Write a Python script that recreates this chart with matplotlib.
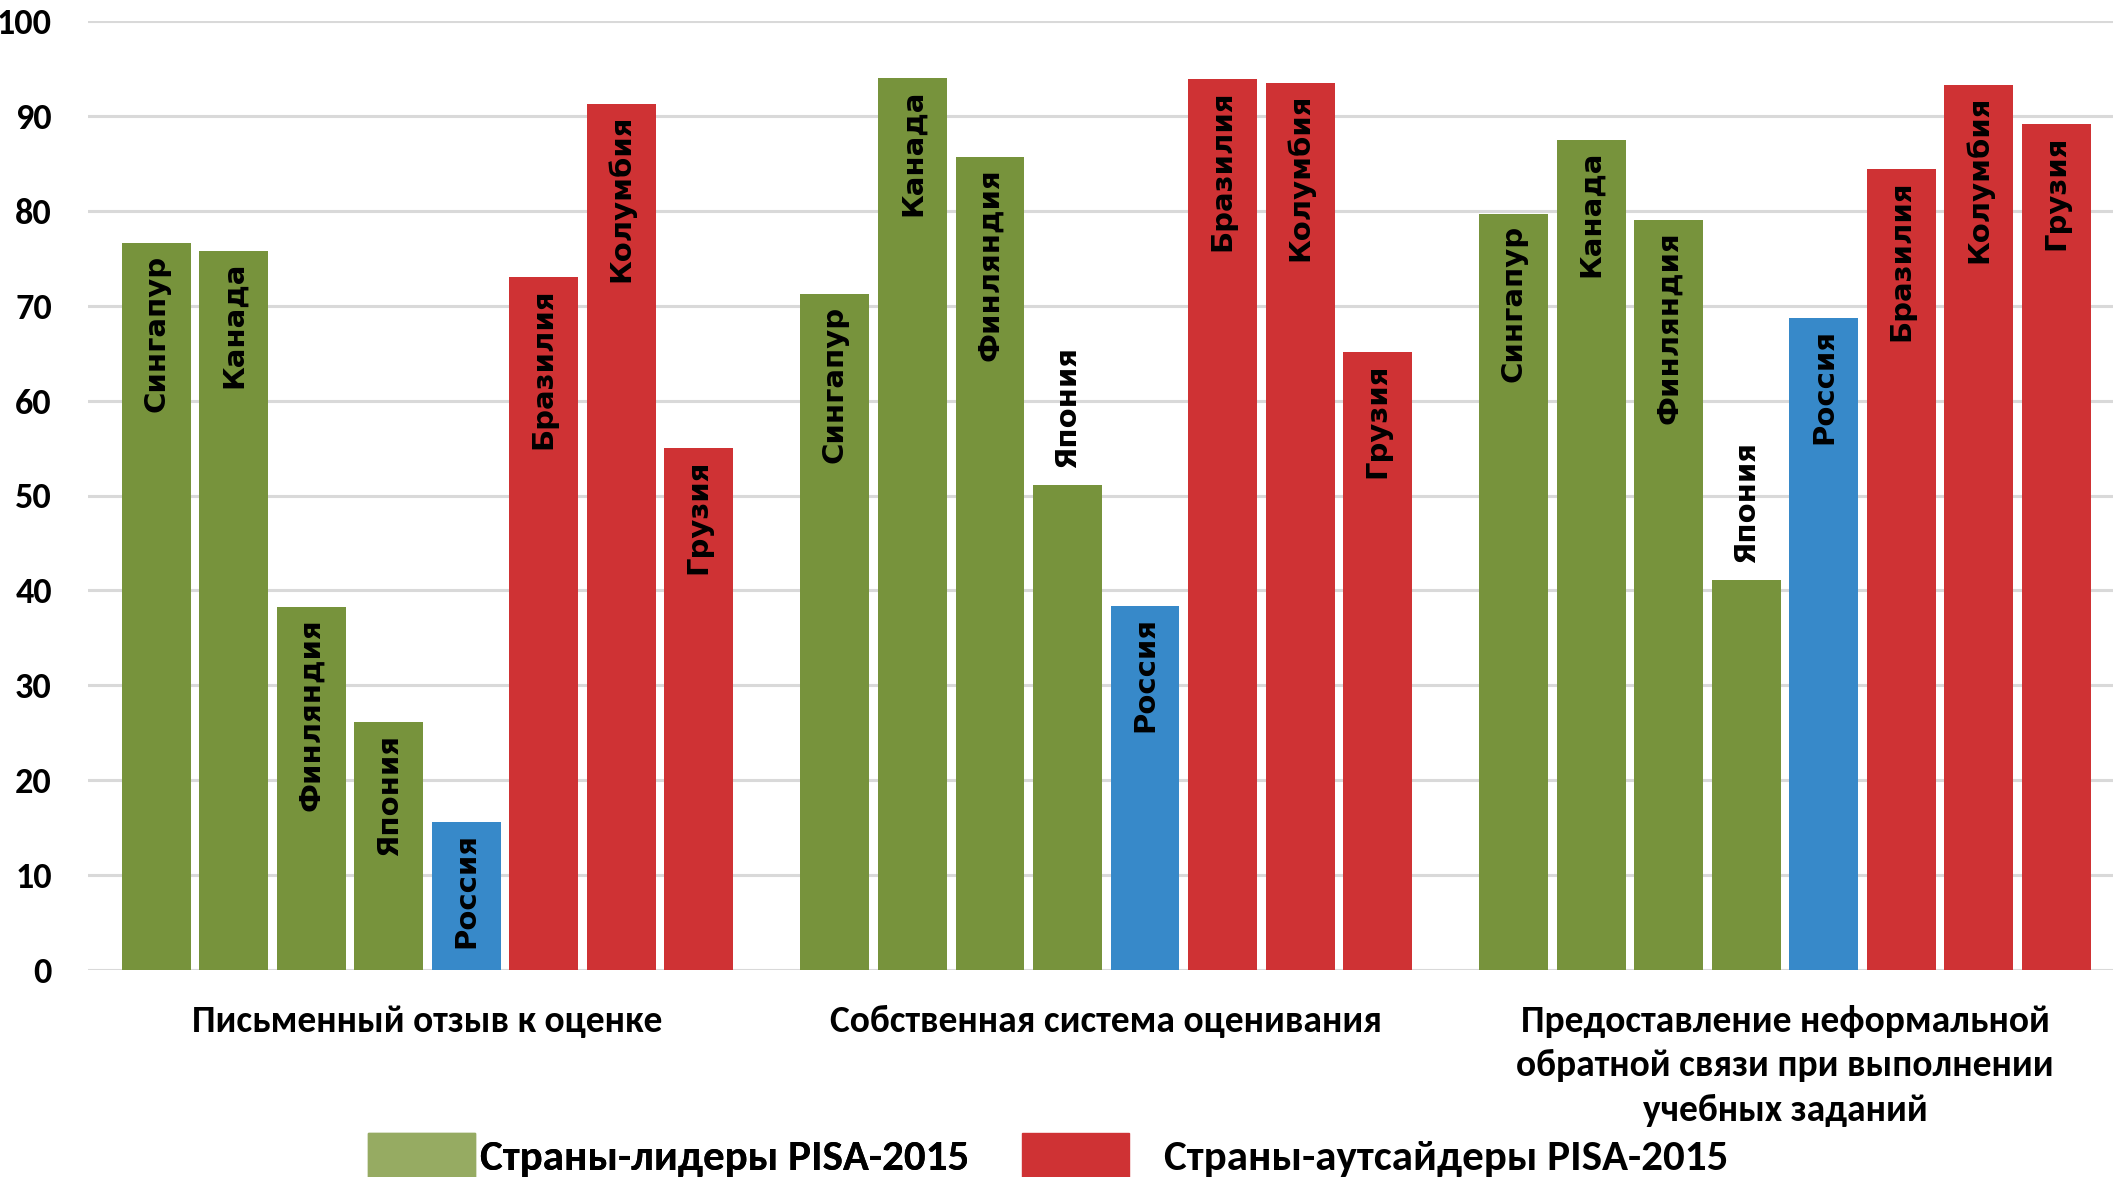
import matplotlib
matplotlib.use("Agg")
import matplotlib.pyplot as plt
from matplotlib.patches import Patch

# data
groups = ["Письменный отзыв к оценке",
          "Собственная система оценивания",
          "Предоставление неформальной\nобратной связи при выполнении\nучебных заданий"]
countries = ["Сингапур", "Канада", "Финляндия", "Япония", "Россия",
             "Бразилия", "Колумбия", "Грузия"]
written = [76.6, 75.8, 38.2, 26.1, 15.6, 73.0, 91.3, 55.0]
own_system = [71.2, 94.0, 85.7, 51.1, 38.4, 93.9, 93.5, 65.1]
informal = [79.7, 87.5, 79.0, 41.1, 68.7, 84.4, 93.3, 89.1]
kinds = ["lead", "lead", "lead", "lead", "rus", "out", "out", "out"]
legend_labels = ["Страны-лидеры PISA-2015", "Страны-аутсайдеры PISA-2015"]

colors = {"lead": "#77933C", "rus": "#3789C9", "out": "#CF3234"}
legend_colors = ["#96AB62", "#CF3234"]

narrow = ["Carlito", "PT Sans Narrow", "DejaVu Sans"]

fig = plt.figure(figsize=(21.13, 11.77), dpi=100)
ax = fig.add_axes([88 / 2113, 1 - 970 / 1177, 1 - 88 / 2113, (970 - 21) / 1177])

width = 0.1015
pitch = 0.1142
series = [written, own_system, informal]
for g, vals in enumerate(series):
    for i, v in enumerate(vals):
        x = g + (i - 3.5) * pitch
        ax.bar(x, v, width=width, color=colors[kinds[i]], zorder=2)
        # Japan label sits above the bar in groups 2 and 3
        if countries[i] == "Япония" and g > 0:
            ax.text(x, v + 1.8, countries[i], rotation=90, ha="center", va="bottom",
                    fontsize=21, fontweight="bold", family="DejaVu Sans", zorder=3)
        else:
            ax.text(x, v - 1.2, countries[i], rotation=90, ha="center", va="top",
                    fontsize=21, fontweight="bold", family="DejaVu Sans", zorder=3)

ax.set_xlim(-0.5, 2.483)
ax.set_ylim(0, 100)
ax.set_yticks(range(0, 101, 10))
ax.set_xticks(range(3))
ax.set_xticklabels(groups, fontsize=27, fontweight="bold", family=narrow,
                   linespacing=1.42)
for lab in ax.get_yticklabels():
    lab.set_fontsize(26)
    lab.set_fontweight("bold")
    lab.set_family(narrow)
ax.tick_params(axis="y", length=0, pad=26)
ax.tick_params(axis="x", length=0, pad=25)
ax.grid(axis="y", color="#D9D9D9", linewidth=2.2, zorder=0)
for s in ax.spines.values():
    s.set_visible(False)

# two legend entries placed separately, like in the original
leg_props = {"family": narrow, "weight": "bold", "size": 31}
leg1 = fig.legend([Patch(color=legend_colors[0])], [legend_labels[0]], loc="lower left",
                  bbox_to_anchor=(0.172, -0.005), frameon=False, handlelength=2.5,
                  handleheight=1.25, handletextpad=0.1, borderpad=0.1, borderaxespad=0,
                  prop=leg_props)
leg2 = fig.legend([Patch(color=legend_colors[1])], [legend_labels[1]], loc="lower left",
                  bbox_to_anchor=(0.4815, -0.005), frameon=False, handlelength=2.5,
                  handleheight=1.25, handletextpad=0.8, borderpad=0.1, borderaxespad=0,
                  prop=leg_props)
fig.add_artist(leg1)

fig.savefig("out.png", dpi=100)
